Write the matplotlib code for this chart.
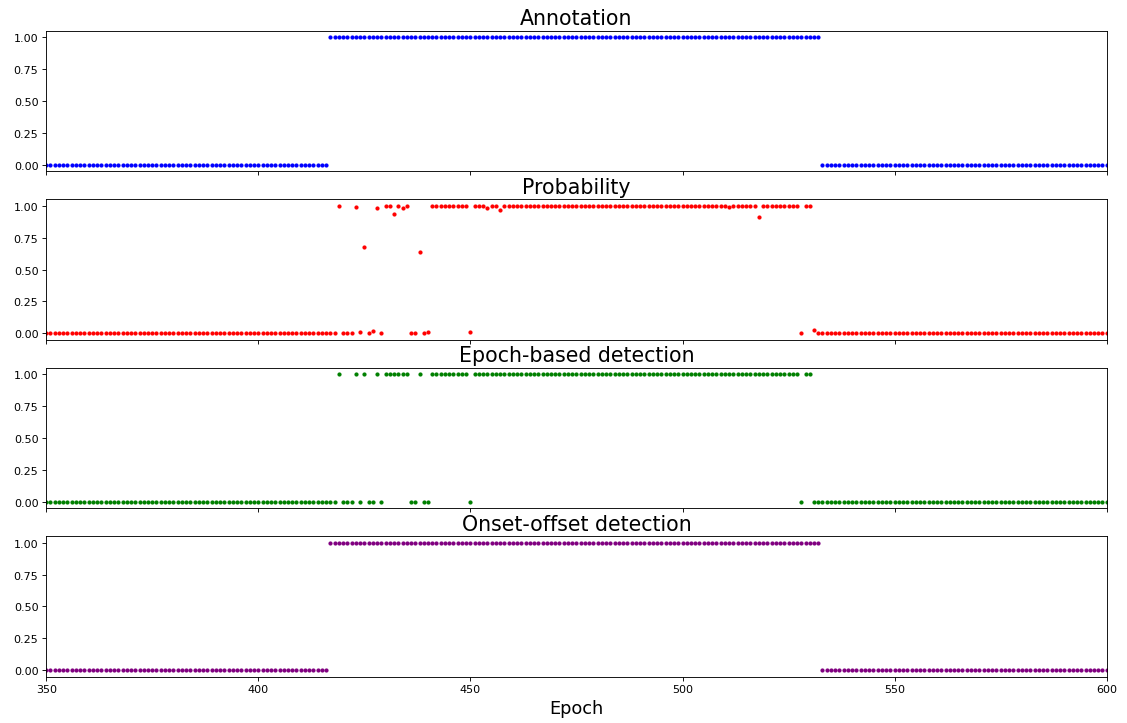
import numpy as np
import matplotlib
matplotlib.use("Agg")
import matplotlib.pyplot as plt

# epochs shown on the x axis
epochs = np.arange(350, 601)

# annotation / onset-offset: seizure from onset to offset (inclusive)
ann_onset, ann_offset = 417, 532
oo_onset, oo_offset = 417, 532

# classifier probability for epochs 417..532 (0 elsewhere)
prob_mid = ([0.0, 0.005, 1.0, 0.0, 0.0, 0.0, 0.987, 0.013, 0.68, 0.0,
             0.02, 0.98, 0.0, 1.0, 1.0, 0.935, 1.0, 0.982, 1.0, 0.0,
             0.0, 0.634, 0.0, 0.013]
            + [1.0] * 9
            + [0.008, 1.0, 1.0, 1.0, 0.982, 1.0, 1.0, 0.966]
            + [1.0] * 53
            + [0.987]
            + [1.0] * 6
            + [0.909]
            + [1.0] * 9
            + [0.003, 1.0, 1.0, 0.026, 0.0])

# epoch-based detection for epochs 417..532 (0 elsewhere)
det_mid = ([0, 0, 1, 0, 0, 0, 1, 0, 1, 0,
            0, 1, 0, 1, 1, 1, 1, 1, 1, 0,
            0, 1, 0, 0]
           + [1] * 9
           + [0, 1, 1, 1, 1, 1, 1, 1]
           + [1] * 53
           + [1]
           + [1] * 6
           + [1]
           + [1] * 9
           + [0, 1, 1, 0, 0])

mid_start = 417

annotation = np.where((epochs >= ann_onset) & (epochs <= ann_offset), 1.0, 0.0)
onset_offset = np.where((epochs >= oo_onset) & (epochs <= oo_offset), 1.0, 0.0)
probability = np.zeros(len(epochs))
probability[mid_start - 350: mid_start - 350 + len(prob_mid)] = prob_mid
detection = np.zeros(len(epochs))
detection[mid_start - 350: mid_start - 350 + len(det_mid)] = det_mid

panels = [
    ("Annotation", annotation, "blue"),
    ("Probability", probability, "red"),
    ("Epoch-based detection", detection, "green"),
    ("Onset-offset detection", onset_offset, "purple"),
]

fig, axes = plt.subplots(4, 1, sharex=True, figsize=(11.27 / 0.8, 7.24 / 0.8), dpi=80)
fig.subplots_adjust(left=0.041, right=0.982, top=0.956, bottom=0.064, hspace=0.2)

for ax, (title, vals, color) in zip(axes, panels):
    ax.plot(epochs, vals, ".", color=color, ms=5.5)
    ax.set_title(title, fontsize=18.5)
    ax.set_yticks([0, 0.25, 0.5, 0.75, 1.0])
    ax.set_yticklabels(["0.00", "0.25", "0.50", "0.75", "1.00"])

axes[-1].set_xlim(350, 600)
axes[-1].set_xticks([350, 400, 450, 500, 550, 600])
axes[-1].set_xlabel("Epoch", fontsize=16)

fig.savefig("out.png", dpi=80)
plt.close(fig)
